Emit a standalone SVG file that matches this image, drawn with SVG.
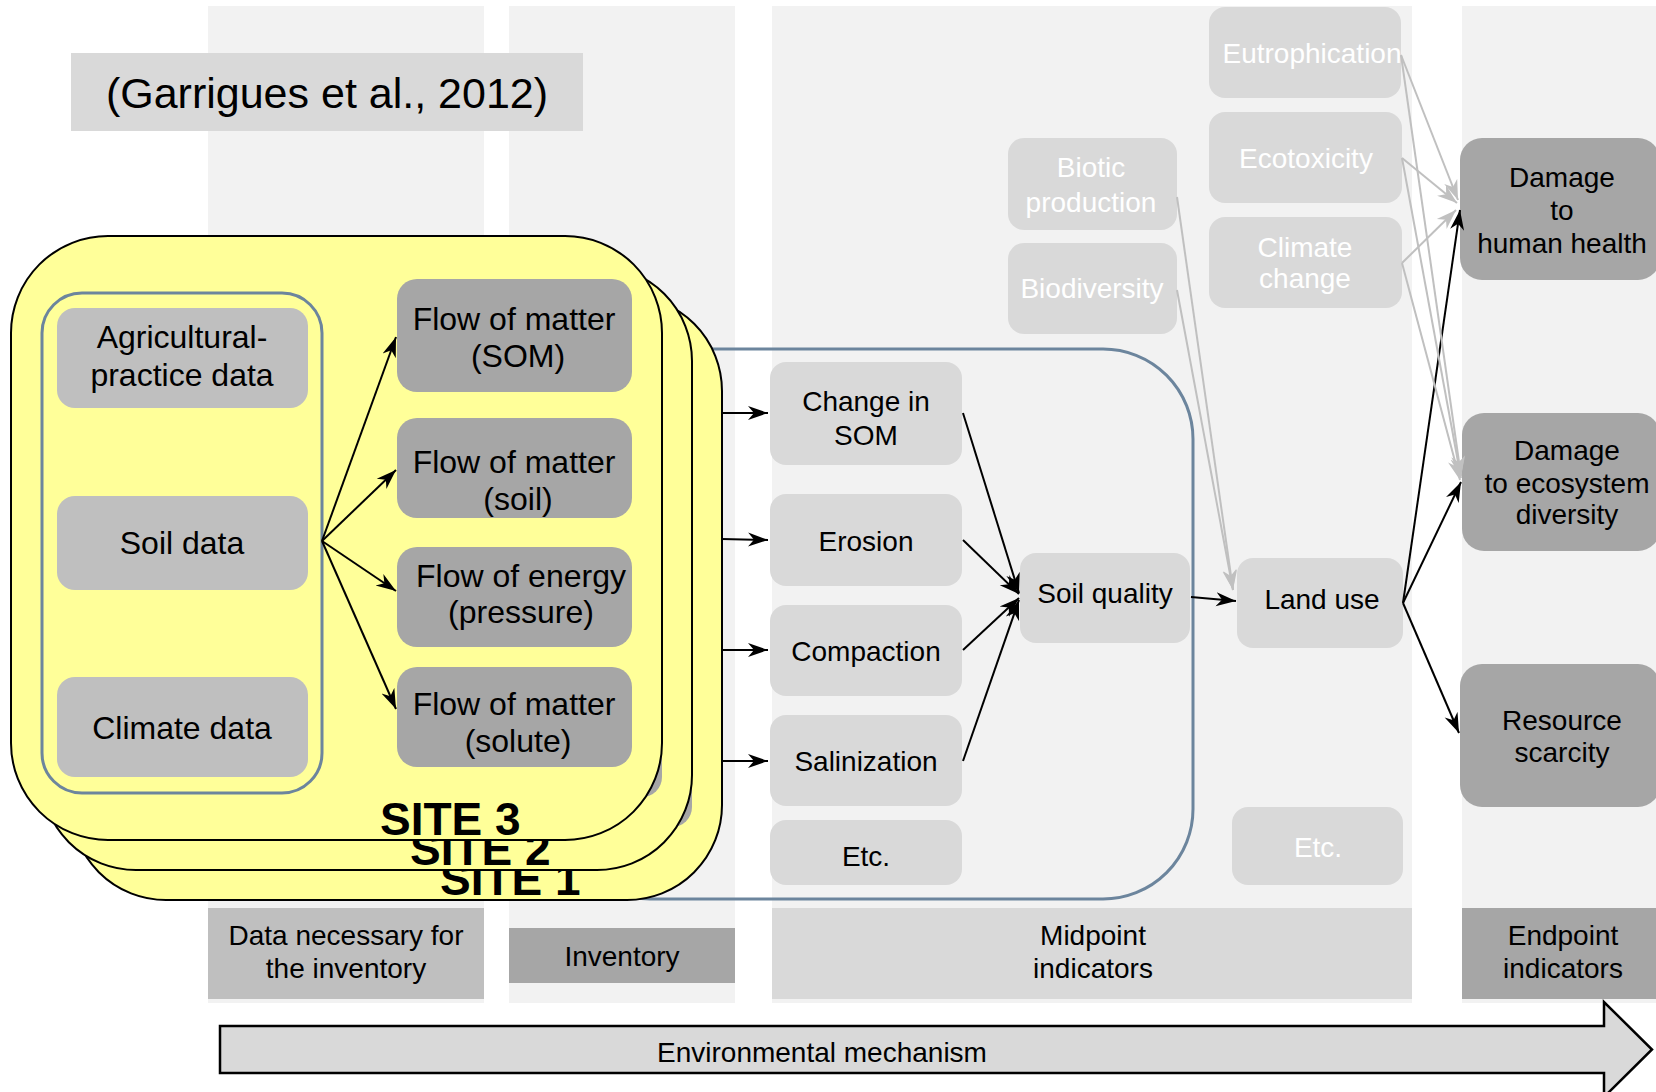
<svg xmlns="http://www.w3.org/2000/svg" width="1656" height="1092" viewBox="0 0 1656 1092">
<defs>
<style>
text{font-family:"Liberation Sans",Arial,sans-serif;fill:#000}
.col{fill:#f2f2f2}
.t28{font-size:28px;text-anchor:middle}
.t32{font-size:32px;text-anchor:middle}
.w{fill:#ffffff}
.site{fill:#ffff99;stroke:#000;stroke-width:2}
.blue{fill:none;stroke:#6c859d;stroke-width:3}
.data{fill:#bfbfbf}
.flow{fill:#a6a6a6}
.mid{fill:#d9d9d9}
.end{fill:#a6a6a6}
.site-lbl{font-size:46px;font-weight:bold}
.k{stroke:#000;stroke-width:2;fill:none;marker-end:url(#ah)}
.g{stroke:#c0c0c0;stroke-width:2;fill:none;marker-end:url(#ahg)}
</style>
<marker id="ah" markerWidth="22" markerHeight="16" refX="20" refY="8" orient="auto" markerUnits="userSpaceOnUse"><path d="M0,1 L20,8 L0,15 L6,8 Z" fill="#000"/></marker>
<marker id="ahg" markerWidth="22" markerHeight="16" refX="20" refY="8" orient="auto" markerUnits="userSpaceOnUse"><path d="M0,1 L20,8 L0,15 L6,8 Z" fill="#c0c0c0"/></marker>
</defs>
<rect width="1656" height="1092" fill="#ffffff"/>
<g id="columns">
<rect class="col" x="208" y="6" width="276" height="997"/>
<rect class="col" x="509" y="6" width="226" height="997"/>
<rect class="col" x="772" y="6" width="640" height="997"/>
<rect class="col" x="1462" y="6" width="194" height="997"/>
</g>
<g id="column-labels">
<g id="label-data"><rect x="208" y="908" width="276" height="91" fill="#bfbfbf"/><text class="t28" x="346" y="945">Data necessary for</text><text class="t28" x="346" y="978">the inventory</text></g>
<g id="label-inventory"><rect x="509" y="928" width="226" height="55" fill="#a6a6a6"/><text class="t28" x="622" y="966">Inventory</text></g>
<g id="label-midpoint"><rect x="772" y="908" width="640" height="91" fill="#d9d9d9"/><text class="t28" x="1093" y="945">Midpoint</text><text class="t28" x="1093" y="978">indicators</text></g>
<g id="label-endpoint"><rect x="1462" y="908" width="194" height="91" fill="#a6a6a6"/><text class="t28" x="1563" y="945">Endpoint</text><text class="t28" x="1563" y="978">indicators</text></g>
</g>
<g id="mechanism">
<path d="M220,1026 H1604 V1002 L1652,1049.5 L1604,1097 V1073 H220 Z" fill="#d9d9d9" stroke="#000" stroke-width="2.5"/>
<text class="t28" x="822" y="1062">Environmental mechanism</text>
</g>
<g id="citation"><rect x="71" y="53" width="512" height="78" fill="#d9d9d9"/><text x="327" y="108" style="font-size:43px;text-anchor:middle">(Garrigues et al., 2012)</text></g>
<g id="midpoint-frame"><rect class="blue" x="560" y="349" width="633" height="550" rx="90" ry="90"/></g>
<g id="n-change-som"><rect class="mid" x="770" y="362" width="192" height="103" rx="16"/><text class="t28" x="866" y="411">Change in</text><text class="t28" x="866" y="445">SOM</text></g>
<g id="n-erosion"><rect class="mid" x="770" y="494" width="192" height="92" rx="16"/><text class="t28" x="866" y="551">Erosion</text></g>
<g id="n-compaction"><rect class="mid" x="770" y="605" width="192" height="91" rx="16"/><text class="t28" x="866" y="661">Compaction</text></g>
<g id="n-salinization"><rect class="mid" x="770" y="715" width="192" height="91" rx="16"/><text class="t28" x="866" y="771">Salinization</text></g>
<g id="n-etc1"><rect class="mid" x="770" y="820" width="192" height="65" rx="16"/><text class="t28" x="866" y="866">Etc.</text></g>
<g id="n-soil-quality"><rect class="mid" x="1020" y="553" width="170" height="90" rx="16"/><text class="t28" x="1105" y="603">Soil quality</text></g>
<g id="n-land-use"><rect class="mid" x="1237" y="558" width="166" height="90" rx="16"/><text class="t28" x="1322" y="609">Land use</text></g>
<g id="n-etc2"><rect class="mid" x="1232" y="807" width="171" height="78" rx="16"/><text class="t28 w" x="1318" y="857">Etc.</text></g>
<g id="n-eutrophication"><rect class="mid" x="1209" y="7" width="192" height="91" rx="16"/><text class="t28 w" x="1312" y="63">Eutrophication</text></g>
<g id="n-ecotoxicity"><rect class="mid" x="1209" y="112" width="193" height="91" rx="16"/><text class="t28 w" x="1306" y="168">Ecotoxicity</text></g>
<g id="n-climate-change"><rect class="mid" x="1209" y="217" width="193" height="91" rx="16"/><text class="t28 w" x="1305" y="257">Climate</text><text class="t28 w" x="1305" y="288">change</text></g>
<g id="n-biotic-production"><rect class="mid" x="1008" y="138" width="169" height="92" rx="16"/><text class="t28 w" x="1091" y="177">Biotic</text><text class="t28 w" x="1091" y="212">production</text></g>
<g id="n-biodiversity"><rect class="mid" x="1008" y="243" width="169" height="91" rx="16"/><text class="t28 w" x="1092" y="298">Biodiversity</text></g>
<g id="n-human-health"><rect class="end" x="1460" y="138" width="200" height="142" rx="22"/><text class="t28" x="1562" y="187">Damage</text><text class="t28" x="1562" y="220">to</text><text class="t28" x="1562" y="253">human health</text></g>
<g id="n-ecosystem"><rect class="end" x="1462" y="413" width="198" height="138" rx="22"/><text class="t28" x="1567" y="460">Damage</text><text class="t28" x="1567" y="493">to ecosystem</text><text class="t28" x="1567" y="524">diversity</text></g>
<g id="n-resource"><rect class="end" x="1460" y="664" width="200" height="143" rx="22"/><text class="t28" x="1562" y="730">Resource</text><text class="t28" x="1562" y="762">scarcity</text></g>
<g id="site-1">
<rect class="site" x="71" y="296" width="651" height="604" rx="95" ry="95"/>
<rect class="flow" x="457" y="339" width="235" height="113" rx="20"/>
<rect class="flow" x="457" y="478" width="235" height="100" rx="20"/>
<rect class="flow" x="457" y="607" width="235" height="100" rx="20"/>
<rect class="flow" x="457" y="727" width="235" height="100" rx="20"/>
<text class="site-lbl" x="440" y="895">SITE 1</text>
</g>
<g id="site-2">
<rect class="site" x="41" y="266" width="651" height="604" rx="95" ry="95"/>
<rect class="flow" x="427" y="309" width="235" height="113" rx="20"/>
<rect class="flow" x="427" y="448" width="235" height="100" rx="20"/>
<rect class="flow" x="427" y="577" width="235" height="100" rx="20"/>
<rect class="flow" x="427" y="697" width="235" height="100" rx="20"/>
<text class="site-lbl" x="410" y="865">SITE 2</text>
</g>
<g id="site-3">
<rect class="site" x="11" y="236" width="651" height="604" rx="97" ry="97"/>
<rect class="blue" x="42" y="293" width="280" height="500" rx="40" ry="40"/>
<text class="site-lbl" x="380" y="835">SITE 3</text>
</g>
<g id="n-agri"><rect class="data" x="57" y="308" width="251" height="100" rx="18"/><text class="t32" x="182" y="348">Agricultural-</text><text class="t32" x="182" y="386">practice data</text></g>
<g id="n-soil-data"><rect class="data" x="57" y="496" width="251" height="94" rx="18"/><text class="t32" x="182" y="554">Soil data</text></g>
<g id="n-climate-data"><rect class="data" x="57" y="677" width="251" height="100" rx="18"/><text class="t32" x="182" y="739">Climate data</text></g>
<g id="n-flow-som"><rect class="flow" x="397" y="279" width="235" height="113" rx="20"/><text class="t32" x="514" y="330">Flow of matter</text><text class="t32" x="518" y="367">(SOM)</text></g>
<g id="n-flow-soil"><rect class="flow" x="397" y="418" width="235" height="100" rx="20"/><text class="t32" x="514" y="473">Flow of matter</text><text class="t32" x="518" y="510">(soil)</text></g>
<g id="n-flow-energy"><rect class="flow" x="397" y="547" width="235" height="100" rx="20"/><text class="t32" x="521" y="587">Flow of energy</text><text class="t32" x="521" y="623">(pressure)</text></g>
<g id="n-flow-solute"><rect class="flow" x="397" y="667" width="235" height="100" rx="20"/><text class="t32" x="514" y="715">Flow of matter</text><text class="t32" x="518" y="752">(solute)</text></g>
<g id="connectors">
<line class="k" x1="322" y1="541" x2="396" y2="337"/>
<line class="k" x1="322" y1="541" x2="396" y2="470"/>
<line class="k" x1="322" y1="541" x2="396" y2="591"/>
<line class="k" x1="322" y1="541" x2="396" y2="709"/>
<line class="k" x1="722" y1="413" x2="768" y2="413"/>
<line class="k" x1="722" y1="539" x2="768" y2="540"/>
<line class="k" x1="722" y1="650" x2="768" y2="650"/>
<line class="k" x1="722" y1="761" x2="768" y2="761"/>
<line class="k" x1="963" y1="413" x2="1019" y2="593"/>
<line class="k" x1="963" y1="540" x2="1019" y2="594"/>
<line class="k" x1="963" y1="650" x2="1019" y2="598"/>
<line class="k" x1="963" y1="761" x2="1019" y2="600"/>
<line class="k" x1="1191" y1="597" x2="1236" y2="601"/>
<line class="k" x1="1403" y1="603" x2="1460" y2="210"/>
<line class="k" x1="1403" y1="603" x2="1461" y2="482"/>
<line class="k" x1="1403" y1="603" x2="1459" y2="733"/>
<line class="g" x1="1401" y1="55" x2="1458" y2="200"/>
<line class="g" x1="1401" y1="55" x2="1461" y2="476"/>
<line class="g" x1="1402" y1="158" x2="1457" y2="203"/>
<line class="g" x1="1402" y1="158" x2="1461" y2="478"/>
<line class="g" x1="1402" y1="263" x2="1456" y2="210"/>
<line class="g" x1="1402" y1="263" x2="1460" y2="480"/>
<line class="g" x1="1177" y1="197" x2="1233" y2="590"/>
<line class="g" x1="1177" y1="290" x2="1233" y2="590"/>
</g>
</svg>
